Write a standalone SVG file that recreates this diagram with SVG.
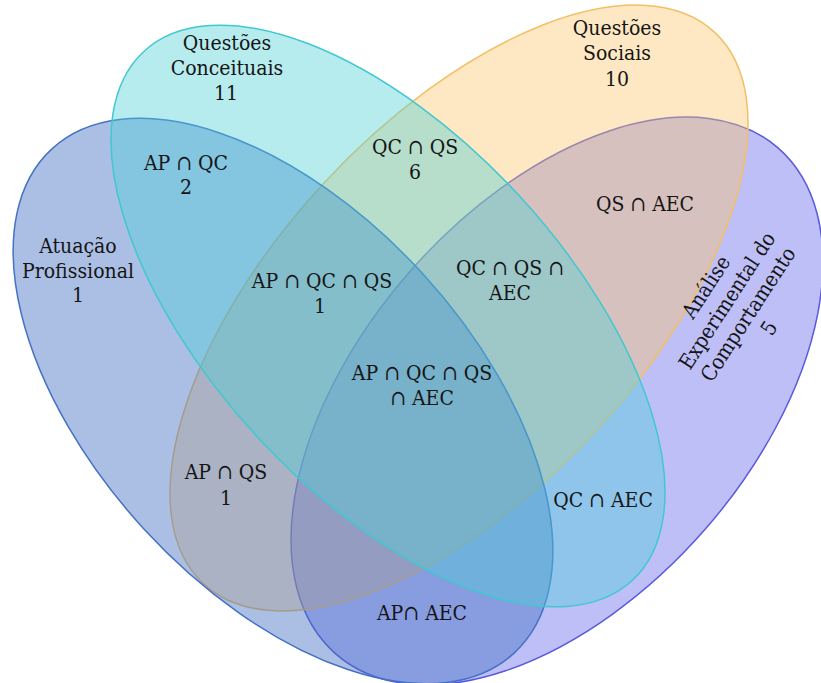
<svg xmlns="http://www.w3.org/2000/svg" width="821" height="683" viewBox="0 0 821 683">
<style>
.lbl{font-family:"DejaVu Serif","Liberation Serif",serif;font-stretch:condensed;font-size:21px;fill:#151515;text-anchor:middle}
.set{stroke-width:1.5}
</style>
<rect width="821" height="683" fill="#ffffff"/>
<g id="shapes">
<g id="set-aec"><ellipse class="set" cx="557" cy="401" rx="336" ry="196" transform="rotate(-48.8 557 401)" fill="#7070f0" fill-opacity="0.45" stroke="#5a5adc"/></g>
<g id="set-qs"><ellipse class="set" cx="459" cy="308" rx="376" ry="184" transform="rotate(-47.2 459 308)" fill="#fbc66a" fill-opacity="0.4" stroke="#f2c063"/></g>
<g id="set-ap"><ellipse class="set" cx="283" cy="401" rx="342" ry="189" transform="rotate(47.5 283 401)" fill="#4472c4" fill-opacity="0.45" stroke="#4472c4"/></g>
<g id="set-qc"><ellipse class="set" cx="388" cy="316" rx="360" ry="178" transform="rotate(47.3 388 316)" fill="#4bd0d8" fill-opacity="0.4" stroke="#40c8d0"/></g>
</g>
<g id="connectors"></g>
<g id="label-qc"><text class="lbl" x="227" y="50">Questões</text><text class="lbl" x="227" y="75">Conceituais</text><text class="lbl" x="226" y="100">11</text></g>
<g id="label-qs"><text class="lbl" x="617" y="35">Questões</text><text class="lbl" x="617" y="60">Sociais</text><text class="lbl" x="617" y="86">10</text></g>
<g id="label-ap"><text class="lbl" x="78" y="253">Atuação</text><text class="lbl" x="78" y="278">Profissional</text><text class="lbl" x="78" y="302">1</text></g>
<g id="label-aec"><text class="lbl" transform="translate(707.5 288) rotate(-57)"><tspan x="0" y="5.5">Análise</tspan><tspan x="0" y="30.5">Experimental do</tspan><tspan x="0" y="55.5">Comportamento</tspan><tspan x="0" y="80.5">5</tspan></text></g>
<g id="label-ap-qc"><text class="lbl" x="186" y="170">AP ∩ QC</text><text class="lbl" x="186" y="194">2</text></g>
<g id="label-qc-qs"><text class="lbl" x="415" y="154">QC ∩ QS</text><text class="lbl" x="415" y="179">6</text></g>
<g id="label-qs-aec"><text class="lbl" x="645" y="211">QS ∩ AEC</text></g>
<g id="label-ap-qc-qs"><text class="lbl" x="322" y="288">AP ∩ QC ∩ QS</text><text class="lbl" x="320" y="313">1</text></g>
<g id="label-qc-qs-aec"><text class="lbl" x="510" y="275">QC ∩ QS ∩</text><text class="lbl" x="510" y="300">AEC</text></g>
<g id="label-all"><text class="lbl" x="422" y="380">AP ∩ QC ∩ QS</text><text class="lbl" x="422" y="405">∩ AEC</text></g>
<g id="label-ap-qs"><text class="lbl" x="226" y="479">AP ∩ QS</text><text class="lbl" x="226" y="505">1</text></g>
<g id="label-qc-aec"><text class="lbl" x="603" y="507">QC ∩ AEC</text></g>
<g id="label-ap-aec"><text class="lbl" x="422" y="620">AP∩ AEC</text></g>
</svg>
